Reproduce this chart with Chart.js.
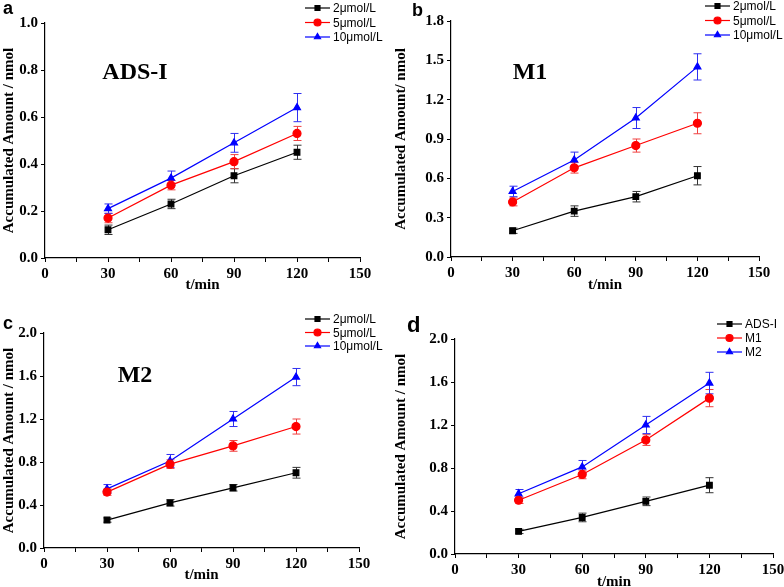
<!DOCTYPE html>
<html>
<head>
<meta charset="utf-8">
<script src="https://cdn.jsdelivr.net/npm/chart.js@4"></script>
<style>
  html, body { margin: 0; padding: 0; background: #fff; overflow: hidden; }
  body { position: relative; width: 784px; height: 587px; }
  canvas { position: absolute; }
</style>
</head>
<body>
<canvas id="chartA" style="left:0;top:0" width="392" height="296"></canvas>
<canvas id="chartB" style="left:392px;top:0" width="392" height="296"></canvas>
<canvas id="chartC" style="left:0;top:290px" width="392" height="297"></canvas>
<canvas id="chartD" style="left:392px;top:290px" width="400" height="301"></canvas>
<script>
// datos comunes
const times = [30, 60, 90, 120];
const concLabels = ['2μmol/L', '5μmol/L', '10μmol/L'];
const compLabels = ['ADS-I', 'M1', 'M2'];

// Panel a: ADS-I
const adsi2 = [0.12, 0.23, 0.35, 0.45];
const adsi2Err = [0.02, 0.02, 0.03, 0.03];
const adsi5 = [0.17, 0.31, 0.41, 0.53];
const adsi5Err = [0.02, 0.02, 0.03, 0.03];
const adsi10 = [0.21, 0.34, 0.49, 0.64];
const adsi10Err = [0.02, 0.03, 0.04, 0.06];

// Panel b: M1
const m1c2 = [0.20, 0.35, 0.46, 0.62];
const m1c2Err = [0.02, 0.04, 0.04, 0.07];
const m1c5 = [0.42, 0.68, 0.85, 1.02];
const m1c5Err = [0.03, 0.04, 0.05, 0.08];
const m1c10 = [0.50, 0.74, 1.06, 1.45];
const m1c10Err = [0.04, 0.06, 0.08, 0.10];

// Panel c: M2
const m2c2 = [0.26, 0.42, 0.56, 0.70];
const m2c2Err = [0.02, 0.03, 0.03, 0.05];
const m2c5 = [0.52, 0.78, 0.95, 1.13];
const m2c5Err = [0.03, 0.04, 0.05, 0.07];
const m2c10 = [0.55, 0.81, 1.20, 1.59];
const m2c10Err = [0.04, 0.06, 0.07, 0.08];

// Panel d: comparación
const cmpAdsi = [0.21, 0.34, 0.49, 0.64];
const cmpAdsiErr = [0.02, 0.04, 0.04, 0.07];
const cmpM1 = [0.50, 0.74, 1.06, 1.45];
const cmpM1Err = [0.03, 0.04, 0.05, 0.08];
const cmpM2 = [0.56, 0.81, 1.20, 1.59];
const cmpM2Err = [0.04, 0.06, 0.08, 0.10];

const colors = ['#000000', '#ff0000', '#0000ff'];
const errColors = ['#333333', '#f04040', '#3030f0'];
const shapes = ['rect', 'circle', 'triangle'];

const serif = "'Liberation Serif', 'Times New Roman', serif";
const sans = "'Liberation Sans', Arial, sans-serif";

// barras de error, dibujadas con las escalas del gráfico
const errorBarPlugin = {
    id: 'errorBars',
    beforeDatasetsDraw(chart) {
        const ctx = chart.ctx;
        const xs = chart.scales.x, ys = chart.scales.y;
        chart.data.datasets.forEach((ds, di) => {
            ctx.save();
            ctx.strokeStyle = errColors[di];
            ctx.lineWidth = 1;
            ds.data.forEach((p, i) => {
                const e = ds.errors[i];
                const x = Math.round(xs.getPixelForValue(p.x)) + 0.5;
                const y1 = ys.getPixelForValue(p.y + e);
                const y2 = ys.getPixelForValue(p.y - e);
                ctx.beginPath();
                ctx.moveTo(x, y1); ctx.lineTo(x, y2);
                ctx.moveTo(x - 4, y1); ctx.lineTo(x + 4, y1);
                ctx.moveTo(x - 4, y2); ctx.lineTo(x + 4, y2);
                ctx.stroke();
            });
            ctx.restore();
        });
    }
};

// leyenda, letra del panel y etiqueta interior
const decorPlugin = {
    id: 'decor',
    afterDraw(chart, args, opts) {
        const ctx = chart.ctx;
        ctx.save();
        // letra del panel
        ctx.fillStyle = '#000';
        ctx.font = 'bold ' + opts.letterSize + 'px ' + sans;
        ctx.textBaseline = 'middle';
        ctx.textAlign = 'left';
        ctx.fillText(opts.letter, opts.letterX, opts.letterY);
        // etiqueta
        if (opts.tag) {
            ctx.font = 'bold 24px ' + serif;
            ctx.textAlign = 'center';
            ctx.fillText(opts.tag, opts.tagX, opts.tagY);
        }
        // leyenda
        ctx.font = '12px ' + sans;
        ctx.textAlign = 'left';
        chart.data.datasets.forEach((ds, i) => {
            const y = opts.legY + i * opts.legGap;
            ctx.strokeStyle = ds.borderColor;
            ctx.fillStyle = ds.borderColor;
            ctx.lineWidth = 1.2;
            ctx.beginPath();
            ctx.moveTo(opts.legX, y);
            ctx.lineTo(opts.legX + 25, y);
            ctx.stroke();
            Chart.helpers.drawPoint(ctx, {
                pointStyle: ds.pointStyle,
                radius: 3.5,
                borderWidth: 1
            }, opts.legX + 12.5, y);
            ctx.fillStyle = '#000';
            ctx.fillText(ds.label, opts.legX + 28, y + 1);
        });
        ctx.restore();
    }
};

function makeDatasets(labels, values, errors) {
    return values.map((vals, i) => ({
        label: labels[i],
        data: vals.map((v, j) => ({ x: times[j], y: v })),
        errors: errors[i],
        borderColor: colors[i],
        backgroundColor: colors[i],
        pointBackgroundColor: colors[i],
        pointBorderColor: colors[i],
        pointStyle: shapes[i],
        pointRadius: 4,
        borderWidth: 1.2,
        tension: 0
    }));
}

function createPanel(id, cfg) {
    const canvas = document.getElementById(id);
    const ctx = canvas.getContext('2d');
    return new Chart(ctx, {
        type: 'line',
        data: { datasets: makeDatasets(cfg.labels, cfg.values, cfg.errors) },
        options: {
            responsive: false,
            animation: false,
            layout: { padding: cfg.padding },
            plugins: {
                legend: { display: false },
                tooltip: { enabled: false },
                decor: cfg.decor
            },
            scales: {
                x: {
                    type: 'linear',
                    min: 0, max: 150,
                    afterFit(scale) { scale.height = cfg.xHeight; },
                    border: { display: true, color: '#000', width: 1.2 },
                    grid: {
                        drawOnChartArea: false,
                        drawTicks: true,
                        tickLength: 4,
                        tickColor: '#000',
                        tickWidth: 1
                    },
                    ticks: {
                        stepSize: 15,
                        maxRotation: 0,
                        autoSkip: false,
                        padding: 3,
                        color: '#000',
                        font: { family: serif, size: 15, weight: 'bold' },
                        callback: v => (v % 30 === 0 ? v : '')
                    },
                    title: {
                        display: true,
                        text: 't/min',
                        color: '#000',
                        padding: { top: 0, bottom: 0 },
                        font: { family: serif, size: 15, weight: 'bold' }
                    }
                },
                y: {
                    min: 0, max: cfg.yMax,
                    afterFit(scale) { scale.width = cfg.yWidth; },
                    border: { display: true, color: '#000', width: 1.2 },
                    grid: {
                        drawOnChartArea: false,
                        drawTicks: true,
                        tickLength: 4,
                        tickColor: '#000'
                    },
                    ticks: {
                        stepSize: cfg.yStep,
                        padding: 3,
                        color: '#000',
                        font: { family: serif, size: 15, weight: 'bold' },
                        callback: v => v.toFixed(1)
                    },
                    title: {
                        display: true,
                        text: cfg.yTitle,
                        color: '#000',
                        padding: { top: 0, bottom: 2 },
                        font: { family: serif, size: 15, weight: 'bold' }
                    }
                }
            }
        },
        plugins: [errorBarPlugin, decorPlugin]
    });
}

createPanel('chartA', {
    labels: concLabels,
    values: [adsi2, adsi5, adsi10],
    errors: [adsi2Err, adsi5Err, adsi10Err],
    yMax: 1.0, yStep: 0.2,
    yTitle: 'Accumulated Amount / nmol',
    padding: { left: 0, top: 23, right: 32, bottom: 2 },
    yWidth: 45, xHeight: 36,
    decor: { letter: 'a', letterX: 3, letterY: 9, letterSize: 18,
             tag: 'ADS-I', tagX: 135, tagY: 73,
             legX: 305, legY: 8, legGap: 14.5 }
});

createPanel('chartB', {
    labels: concLabels,
    values: [m1c2, m1c5, m1c10],
    errors: [m1c2Err, m1c5Err, m1c10Err],
    yMax: 1.8, yStep: 0.3,
    yTitle: 'Accumulated Amount/ nmol',
    padding: { left: 0, top: 21, right: 25, bottom: 2 },
    yWidth: 59, xHeight: 37,
    decor: { letter: 'b', letterX: 20, letterY: 11, letterSize: 18,
             tag: 'M1', tagX: 138, tagY: 73,
             legX: 313, legY: 6, legGap: 14.5 }
});

createPanel('chartC', {
    labels: concLabels,
    values: [m2c2, m2c5, m2c10],
    errors: [m2c2Err, m2c5Err, m2c10Err],
    yMax: 2.0, yStep: 0.4,
    yTitle: 'Accumulated Amount / nmol',
    padding: { left: 0, top: 43, right: 33, bottom: 3 },
    yWidth: 44, xHeight: 36,
    decor: { letter: 'c', letterX: 3, letterY: 34, letterSize: 18,
             tag: 'M2', tagX: 135, tagY: 86,
             legX: 305, legY: 29, legGap: 13.5 }
});

createPanel('chartD', {
    labels: compLabels,
    values: [cmpAdsi, cmpM1, cmpM2],
    errors: [cmpAdsiErr, cmpM1Err, cmpM2Err],
    yMax: 2.0, yStep: 0.4,
    yTitle: 'Accumulated Amount / nmol',
    padding: { left: 0, top: 49, right: 19, bottom: 0 },
    yWidth: 63, xHeight: 37,
    decor: { letter: 'd', letterX: 15, letterY: 36, letterSize: 22,
             tag: '', tagX: 0, tagY: 0,
             legX: 325, legY: 34, legGap: 14 }
});
</script>
</body>
</html>
